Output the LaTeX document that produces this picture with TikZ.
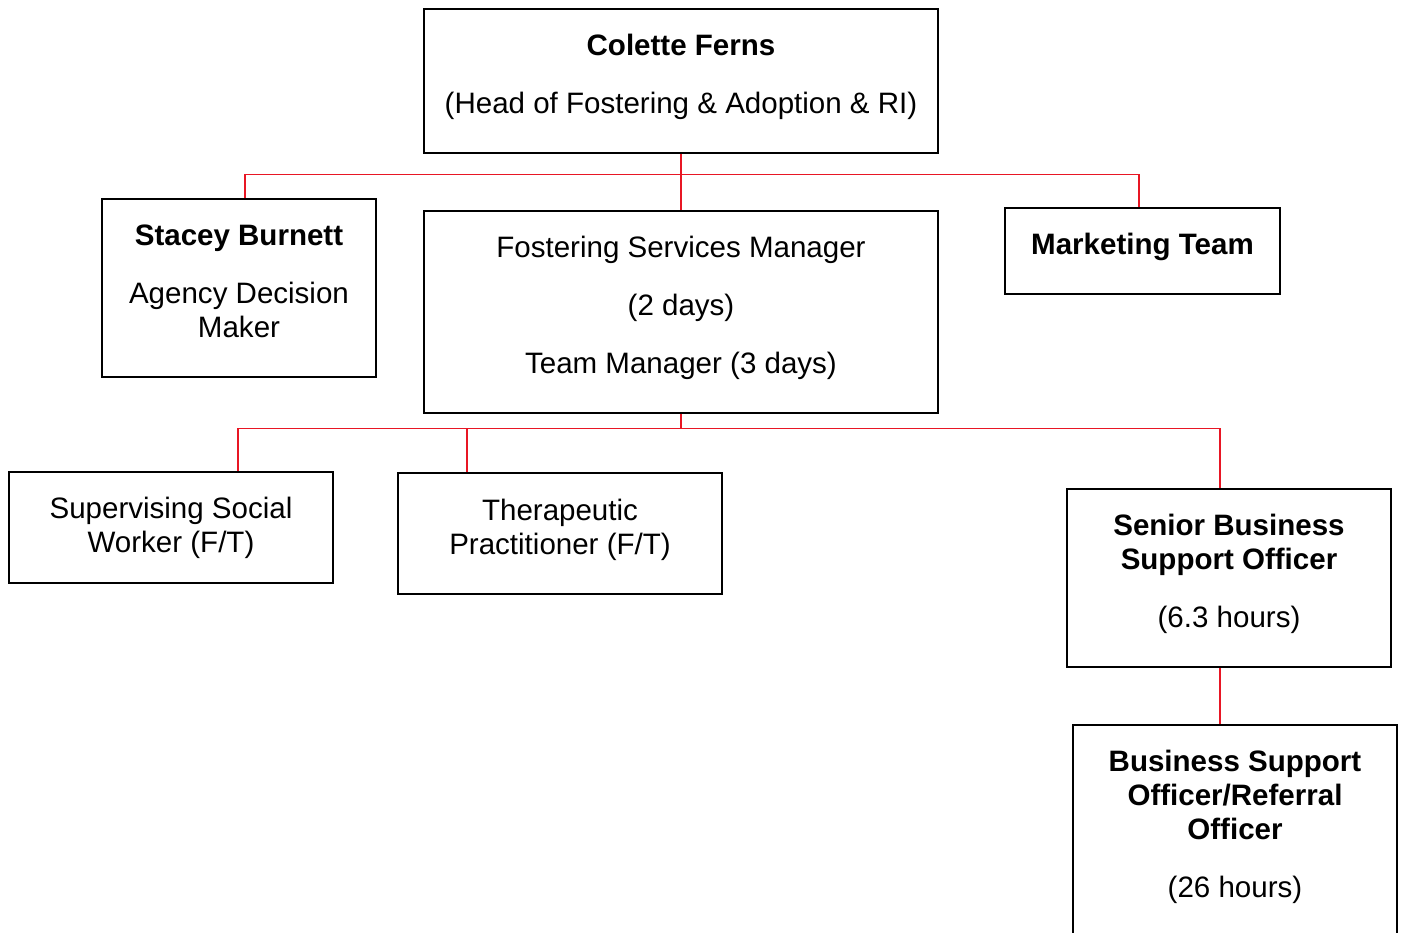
\documentclass[tikz,border=0pt]{standalone}
\usepackage{fontspec}
\setmainfont{Liberation Sans}
\usetikzlibrary{positioning}
\definecolor{linkred}{RGB}{232,22,36}

\begin{document}
\begin{tikzpicture}[
  box/.style={draw,line width=1.1pt,align=center,inner sep=2pt,
    font=\fontsize{16.8pt}{19.35pt}\selectfont},
  deep/.style={box,execute at end node={\rule[-0.28cm]{0pt}{0pt}}},
  link/.style={draw=linkred,line width=0.6pt}
]
  \clip (0,0) rectangle (28.08,-18.64);

  \node[deep,minimum width=10.28cm,minimum height=2.88cm] (CF) at (13.62,-1.62)
    {\textbf{Colette Ferns}\\[0.48cm](Head of Fostering \& Adoption \& RI)};
  \node[deep,minimum width=5.48cm,minimum height=3.56cm] (SB) at (4.78,-5.76)
    {\textbf{Stacey Burnett}\\[0.48cm]Agency Decision\\Maker};
  \node[deep,minimum width=10.28cm,minimum height=4.04cm] (FSM) at (13.62,-6.24)
    {Fostering Services Manager\\[0.48cm](2 days)\\[0.48cm]Team Manager (3 days)};
  \node[deep,minimum width=5.5cm,minimum height=1.72cm] (MT) at (22.85,-5.02)
    {\textbf{Marketing Team}};

  \node[box,minimum width=6.48cm,minimum height=2.22cm] (SSW) at (3.42,-10.55)
    {Supervising Social\\Worker (F/T)};
  \node[deep,minimum width=6.48cm,minimum height=2.42cm] (TP) at (11.2,-10.67)
    {Therapeutic\\Practitioner (F/T)};
  \node[deep,minimum width=6.48cm,minimum height=3.56cm] (SBSO) at (24.58,-11.56)
    {\textbf{Senior Business}\\\textbf{Support Officer}\\[0.48cm](6.3 hours)};
  \node[deep,minimum width=6.48cm,minimum height=4.24cm] (BSO) at (24.70,-16.62)
    {\textbf{Business Support}\\\textbf{Officer/Referral}\\\textbf{Officer}\\[0.48cm](26 hours)};

  % first level
  \coordinate[below=0.42cm of CF.south] (bus1);
  \draw[link] (CF.south) -- (FSM.north);
  \draw[link] ([xshift=0.12cm]SB.north) |- (bus1) -| ([xshift=-0.07cm]MT.north);

  % second level
  \coordinate[below=0.29cm of FSM.south] (bus2);
  \draw[link] (FSM.south) -- (bus2);
  \draw[link] ([xshift=1.34cm]SSW.north) |- (bus2) -| ([xshift=-0.18cm]SBSO.north);
  \draw[link] ([xshift=-1.86cm]TP.north) -- ([xshift=-1.86cm]TP.north |- bus2);

  % business support
  \draw[link] ([xshift=-0.18cm]SBSO.south) -- ([xshift=-0.18cm]SBSO.south |- BSO.north);
\end{tikzpicture}
\end{document}
